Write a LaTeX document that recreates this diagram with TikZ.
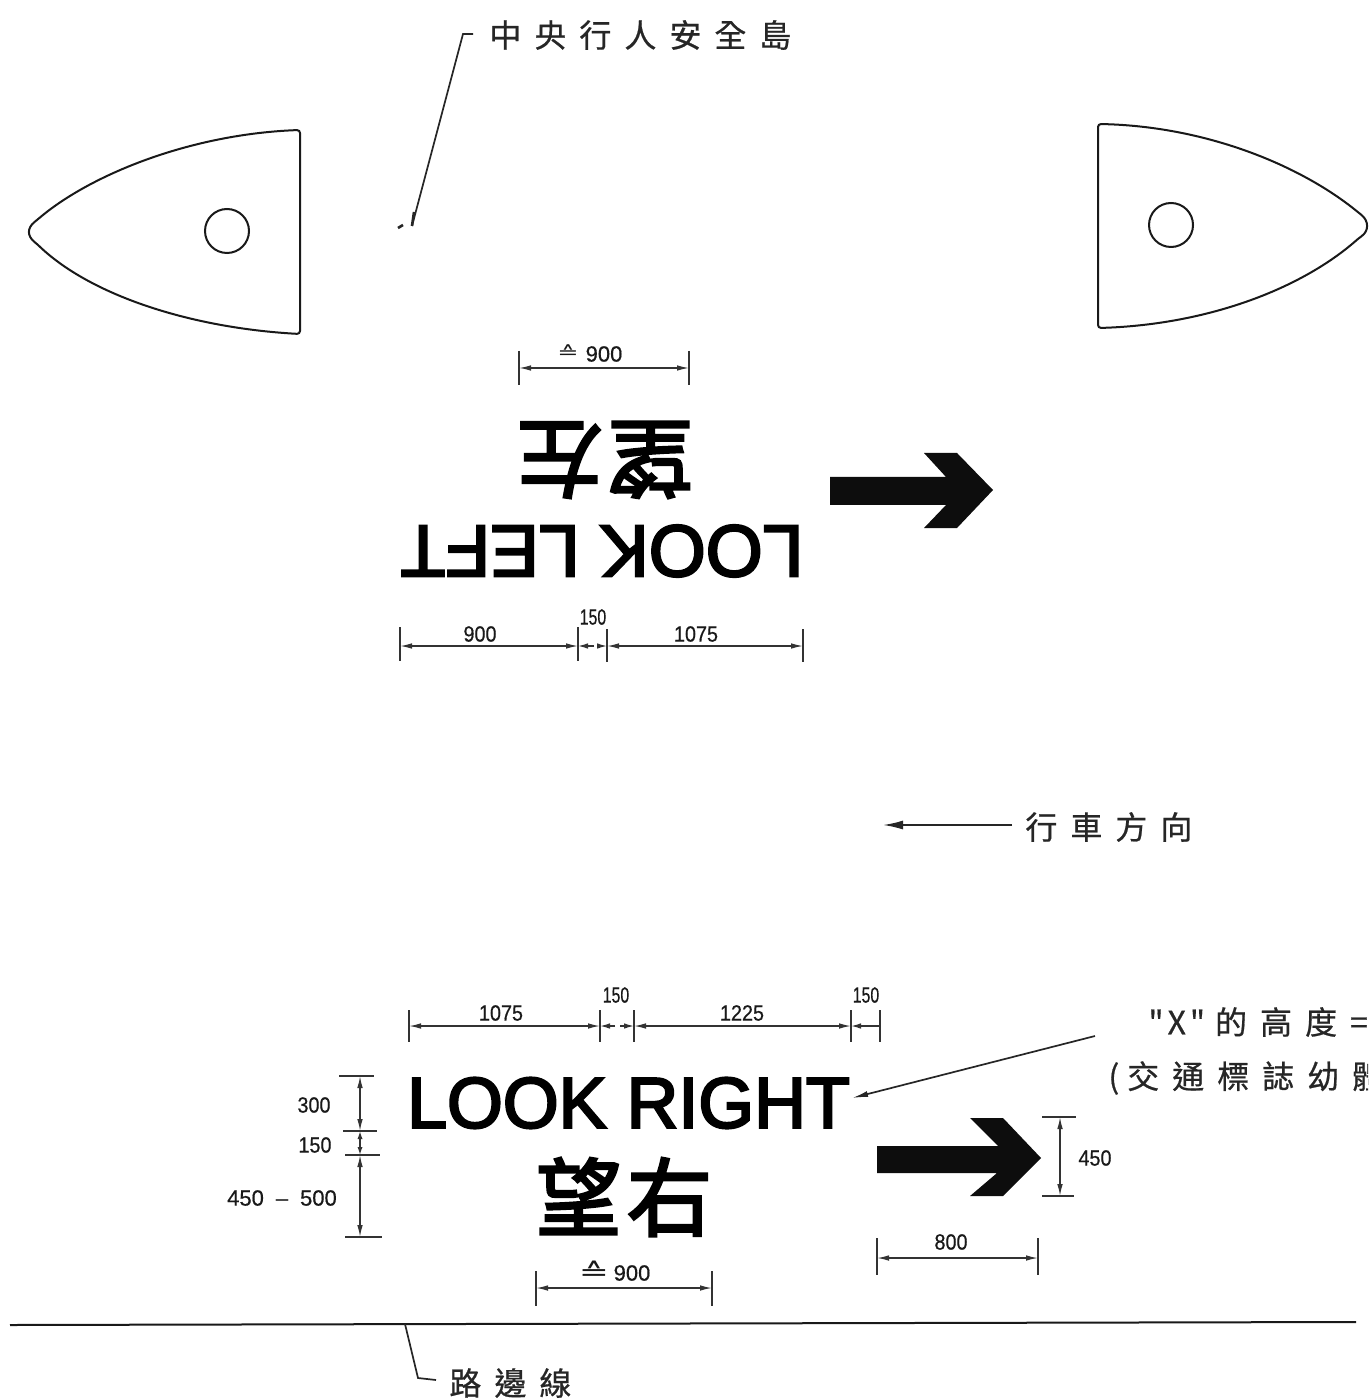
\documentclass[tikz,border=0pt]{standalone}
\usepackage{fontspec}
\usepackage{graphicx}
\usetikzlibrary{arrows.meta}
\setmainfont{Liberation Sans}
\newfontfamily\cjk[FakeBold=.6]{Noto Sans CJK TC}
\newfontfamily\cjksign[FakeBold=3.2]{Noto Sans CJK TC}
\newfontfamily\latsign[FakeBold=3.2]{Liberation Sans}
\newfontfamily\dimf[FakeBold=.5]{Liberation Sans}
\newfontfamily\symf{DejaVu Sans}
\newcommand\gp{\hspace{6.5pt}}
\newcommand\dt[1]{\scalebox{.9}[1]{#1}}
\newcommand\dtn[1]{\scalebox{.72}[1]{#1}}
\tikzset{
  ink/.style={line width=1pt,draw=black!90},
  dimline/.style={line width=.7pt,draw=black!80,{Latex[length=6pt,width=2.8pt]}-{Latex[length=6pt,width=2.8pt]}},
  shortdim/.style={line width=.7pt,draw=black!80,{Latex[length=4pt,width=2.6pt]}-{Latex[length=4pt,width=2.6pt]}},
  stub/.style={line width=.7pt,draw=black!80,-{Latex[length=5pt,width=2.8pt]}},
  tick/.style={line width=.8pt,draw=black!80},
  leader/.style={line width=.85pt,draw=black!85},
  dimtext/.style={inner sep=0pt,font=\dimf\fontsize{11}{11}\selectfont,text=black!90},
  cjktext/.style={inner sep=0pt,anchor=west,font=\cjk\fontsize{16}{16}\selectfont,text=black!85},
  signlatin/.style={inner sep=0pt},
  signcjk/.style={inner sep=0pt,font=\cjksign\fontsize{42.5}{44}\selectfont},
  solidarrow/.style={fill=black!95,draw=none}
}
% name, x1, x2, y, tick top, tick bottom
\newcommand\hdim[6]{%
  \coordinate (#1a) at (#2,#4);\coordinate (#1b) at (#3,#4);
  \coordinate (#1at) at (#2,#5);\coordinate (#1ab) at (#2,#6);
  \coordinate (#1bt) at (#3,#5);\coordinate (#1bb) at (#3,#6);
  \draw[dimline] (#1a) -- (#1b);
  \draw[tick] (#1at) -- (#1ab);
  \draw[tick] (#1bt) -- (#1bb);
}
% name, x, y1, y2
\newcommand\vdim[4]{%
  \coordinate (#1a) at (#2,#3);\coordinate (#1b) at (#2,#4);
  \draw[dimline] (#1a) -- (#1b);
}
% name, x1, x2, y
\newcommand\htickline[4]{%
  \coordinate (#1a) at (#2,#4);\coordinate (#1b) at (#3,#4);
  \draw[tick] (#1a) -- (#1b);
}
\begin{document}
\begin{tikzpicture}[x=.5pt,y=-.5pt]
\clip (0,0) rectangle (1368,1400);
\fill[white] (0,0) rectangle (1368,1400);

% islands
\draw[ink,rounded corners=1.5pt] (300,130) .. controls (190,134) and (90,175) .. (37,220)
  .. controls (27,228) and (27,236) .. (37,244)
  .. controls (90,295) and (190,328) .. (300,334) -- cycle;
\draw[ink] (227,231) circle[radius=11pt];
\draw[ink,rounded corners=1.5pt] (1098,124) .. controls (1205,126) and (1300,165) .. (1359,213)
  .. controls (1369,221) and (1369,231) .. (1359,238)
  .. controls (1300,290) and (1205,325) .. (1098,328) -- cycle;
\draw[ink] (1171,225) circle[radius=11pt];

% top label
\node[cjktext] (island) at (489,35) {中\gp 央\gp 行\gp 人\gp 安\gp 全\gp 島};
\coordinate (islandA) at (473,34);
\coordinate (islandB) at (463,34);
\coordinate (islandC) at (412,226);
\coordinate (islandD) at (398,228);
\coordinate (islandE) at (403,225);
\coordinate (islandF) at (414,212);
\draw[leader] (islandA) -- (islandB) -- (islandC);
\draw[line width=1.3pt,draw=black!85] (islandC) -- (islandF);
\draw[line width=1.3pt,draw=black!85] (islandD) -- (islandE);

% upper sign
\hdim{ta}{519}{689}{368}{351}{385}
\node[dimtext,font=\symf\fontsize{8.5}{9}\selectfont] (ta sym) at (568,352) {\scalebox{1.5}[1]{≙}};
\node[dimtext] (ta label) at (604,354) {900};
\node[signcjk,rotate=180] (wang left) at (605,460) {望\hspace{3pt}左};
\node[signlatin,rotate=180,font=\latsign\fontsize{36.6}{37}\selectfont] (look left) at (602,551) {LOOK LEFT};
\hdim{ca}{400}{578}{646}{627}{661}
\hdim{cc}{607}{803}{646}{629}{662}
\coordinate (cs1) at (578,646);\coordinate (cs2) at (594,646);
\coordinate (cs3) at (597,646);\coordinate (cs4) at (607,646);
\draw[stub] (cs2) -- (cs1);
\draw[stub] (cs3) -- (cs4);
\node[dimtext] (ca label) at (480,634) {\dt{900}};
\node[dimtext] (cb label) at (593,617) {\dtn{150}};
\node[dimtext] (cc label) at (696,634) {\dt{1075}};
\fill[solidarrow] (830,477) -- (946,477) -- (924,453) -- (957,453) -- (993,490) -- (957,528) -- (924,528) -- (946,505) -- (830,505) -- cycle;

% direction of travel
\coordinate (travelA) at (1012,825);
\coordinate (travelB) at (883,825);
\draw[leader,-{Latex[length=10pt,width=4.5pt]}] (travelA) -- (travelB);
\node[cjktext] (travel) at (1025,827) {行\gp 車\gp 方\gp 向};

% lower sign dimensions
\hdim{da}{409}{600}{1026}{1010}{1042}
\hdim{dc}{634}{851}{1026}{1010}{1042}
\coordinate (ds1) at (600,1026);\coordinate (ds2) at (615,1026);
\coordinate (ds3) at (620,1026);\coordinate (ds4) at (634,1026);
\draw[stub] (ds2) -- (ds1);
\draw[stub] (ds3) -- (ds4);
\coordinate (de1) at (851,1026);\coordinate (de2) at (880,1026);
\coordinate (de3) at (880,1010);\coordinate (de4) at (880,1042);
\draw[stub] (de2) -- (de1);
\draw[tick] (de3) -- (de4);
\node[dimtext] (da label) at (501,1013) {\dt{1075}};
\node[dimtext] (db label) at (616,995) {\dtn{150}};
\node[dimtext] (dc label) at (742,1013) {\dt{1225}};
\node[dimtext] (dd label) at (866,995) {\dtn{150}};

\node[signlatin,font=\latsign\fontsize{35.9}{36}\selectfont] (look right) at (628.5,1103) {LOOK RIGHT};
\node[signcjk] (wang right) at (624,1197) {望\hspace{3pt}右};

% left vertical dimension
\vdim{va}{360}{1076}{1131}
\coordinate (vba) at (360,1131);\coordinate (vbb) at (360,1155);
\draw[shortdim] (vba) -- (vbb);
\vdim{vc}{360}{1155}{1237}
\htickline{ha}{339}{374}{1076}
\htickline{hb}{343}{377}{1131}
\htickline{hc}{345}{380}{1155}
\htickline{hd}{345}{382}{1237}
\node[dimtext] (va label) at (314,1105) {\dt{300}};
\node[dimtext] (vb label) at (315,1145) {\dt{150}};
\node[dimtext] (vc label) at (282,1198) {450\hspace{6pt}–\hspace{6pt}500};

% bottom dimension
\hdim{ba}{536}{712}{1288}{1271}{1306}
\node[dimtext,font=\symf\fontsize{12}{12}\selectfont] (ba sym) at (594,1271) {\scalebox{1.5}[1]{≙}};
\node[dimtext] (ba label) at (632,1273) {900};

% lower arrow
\fill[solidarrow] (877,1146) -- (998,1146) -- (970,1118) -- (1003,1118) -- (1041,1158) -- (1003,1196) -- (970,1196) -- (997,1173) -- (877,1173) -- cycle;
\coordinate (aa) at (1060,1117);\coordinate (ab) at (1060,1196);
\draw[dimline] (aa) -- (ab);
\htickline{ah}{1042}{1076}{1117}
\htickline{ai}{1042}{1074}{1196}
\node[dimtext] (aa label) at (1095,1158) {\dt{450}};
\hdim{ea}{877}{1038}{1258}{1238}{1275}
\node[dimtext] (ea label) at (951,1242) {\dt{800}};

% X height note
\node[cjktext] (x height) at (1148,1022) {"\hspace{2pt}X\hspace{2pt}"\hspace{5pt}的\gp 高\gp 度\gp =};
\node[cjktext] (font note) at (1108,1078) {(\hspace{4pt}交\gp 通\gp 標\gp 誌\gp 幼\gp 體};
\coordinate (noteA) at (1095,1036);
\coordinate (noteB) at (852,1098);
\draw[leader,-{Latex[length=8pt,width=3pt]}] (noteA) -- (noteB);

% kerb
\coordinate (kerbA) at (10,1325);
\coordinate (kerbB) at (1356,1322);
\draw[ink] (kerbA) -- (kerbB);
\coordinate (kerbC) at (405,1324);
\coordinate (kerbD) at (418,1378);
\coordinate (kerbE) at (436,1380);
\draw[leader] (kerbC) -- (kerbD) -- (kerbE);
\node[cjktext] (kerb) at (449,1383) {路\gp 邊\gp 線};
\end{tikzpicture}
\end{document}
